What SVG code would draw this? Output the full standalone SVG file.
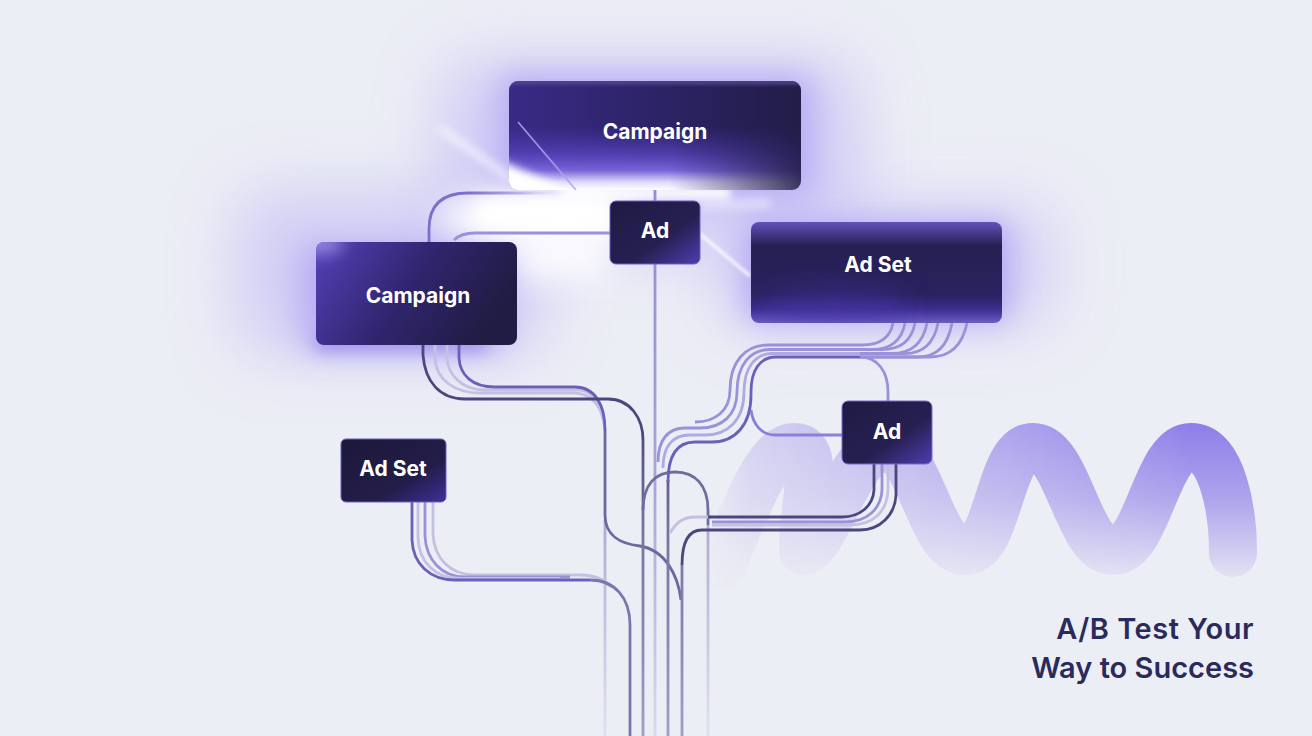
<svg xmlns="http://www.w3.org/2000/svg" width="1312" height="736" viewBox="0 0 1312 736">
<style>
.t{font-family:"Inter","Liberation Sans",sans-serif;font-weight:700;fill:#fff;text-anchor:middle;font-size:21px}
.h{font-family:"Inter","Liberation Sans",sans-serif;font-weight:600;fill:#2a2b5a;text-anchor:end;font-size:29px}
.l{fill:none;stroke-width:2.8;stroke-linecap:butt}
.dark{stroke:#4b467c}
.mid{stroke:#6a60b8}
.lav{stroke:#9a92d8}
.pale{stroke:#c3c0e2}
</style>
<defs>
<filter id="b35" filterUnits="userSpaceOnUse" x="0" y="0" width="1312" height="736"><feGaussianBlur stdDeviation="32"/></filter>
<filter id="b16" filterUnits="userSpaceOnUse" x="0" y="0" width="1312" height="736"><feGaussianBlur stdDeviation="15"/></filter>
<filter id="b8" filterUnits="userSpaceOnUse" x="0" y="0" width="1312" height="736"><feGaussianBlur stdDeviation="8"/></filter>
<filter id="b4" filterUnits="userSpaceOnUse" x="0" y="0" width="1312" height="736"><feGaussianBlur stdDeviation="4"/></filter>
<filter id="b2" filterUnits="userSpaceOnUse" x="0" y="0" width="1312" height="736"><feGaussianBlur stdDeviation="1.6"/></filter>
<linearGradient id="w" gradientUnits="userSpaceOnUse" x1="0" y1="420" x2="0" y2="578"><stop offset="0" stop-color="#8b7ce9"/><stop offset=".5" stop-color="#aea4ec"/><stop offset="1" stop-color="#e2e2f3"/></linearGradient>
<linearGradient id="wm" gradientUnits="userSpaceOnUse" x1="700" y1="0" x2="1190" y2="0"><stop offset="0" stop-color="#fff" stop-opacity="0"/><stop offset=".1" stop-color="#fff" stop-opacity=".25"/><stop offset=".2" stop-color="#fff" stop-opacity=".33"/><stop offset=".42" stop-color="#fff" stop-opacity=".5"/><stop offset=".68" stop-color="#fff" stop-opacity=".72"/><stop offset="1" stop-color="#fff"/></linearGradient>
<mask id="wmask" maskUnits="userSpaceOnUse" x="680" y="400" width="620" height="200"><rect x="680" y="400" width="620" height="200" fill="url(#wm)"/></mask>
<linearGradient id="vfade" gradientUnits="userSpaceOnUse" x1="0" y1="440" x2="0" y2="736"><stop offset="0" stop-color="#55507f"/><stop offset=".3" stop-color="#77739f"/><stop offset=".6" stop-color="#8683b5"/><stop offset="1" stop-color="#a19ec8"/></linearGradient>
<linearGradient id="vlight" gradientUnits="userSpaceOnUse" x1="0" y1="500" x2="0" y2="736"><stop offset="0" stop-color="#a9a6cf"/><stop offset="1" stop-color="#e0e1ee"/></linearGradient>
<linearGradient id="vcenter" gradientUnits="userSpaceOnUse" x1="0" y1="180" x2="0" y2="736"><stop offset="0" stop-color="#9389d8"/><stop offset=".55" stop-color="#a8a5d6"/><stop offset="1" stop-color="#d8d9ea"/></linearGradient>
<linearGradient id="fadeR" gradientUnits="userSpaceOnUse" x1="470" y1="0" x2="575" y2="0"><stop offset="0" stop-color="#7d70cc"/><stop offset=".5" stop-color="#bdb6ee"/><stop offset="1" stop-color="#fff" stop-opacity=".2"/></linearGradient>
<linearGradient id="c1" x1="0" y1="0" x2="1" y2="0"><stop offset="0" stop-color="#392a86"/><stop offset=".6" stop-color="#2a2260"/><stop offset="1" stop-color="#221d48"/></linearGradient>
<linearGradient id="c1b" gradientUnits="userSpaceOnUse" x1="0" y1="125" x2="0" y2="190"><stop offset="0" stop-color="#4a38b4" stop-opacity="0"/><stop offset=".45" stop-color="#5d48c4" stop-opacity=".75"/><stop offset=".7" stop-color="#7a66d8"/><stop offset=".88" stop-color="#e0dafa"/><stop offset="1" stop-color="#fff"/></linearGradient>
<linearGradient id="c1m" gradientUnits="userSpaceOnUse" x1="509" y1="0" x2="801" y2="0"><stop offset="0" stop-color="#fff"/><stop offset=".55" stop-color="#fff"/><stop offset=".8" stop-color="#fff" stop-opacity=".5"/><stop offset="1" stop-color="#fff" stop-opacity=".12"/></linearGradient>
<mask id="c1mask" maskUnits="userSpaceOnUse" x="509" y="81" width="292" height="109"><rect x="509" y="81" width="292" height="109" fill="url(#c1m)"/></mask>
<linearGradient id="c2" x1="0" y1="0" x2="1" y2=".35"><stop offset="0" stop-color="#5540b8"/><stop offset=".55" stop-color="#30256e"/><stop offset="1" stop-color="#211c44"/></linearGradient>
<linearGradient id="c3" x1="0" y1="0" x2="1" y2="1"><stop offset="0" stop-color="#1f1a42"/><stop offset=".6" stop-color="#262052"/><stop offset="1" stop-color="#4f3db0"/></linearGradient>
<linearGradient id="c5" x1="0" y1="0" x2="1" y2="1"><stop offset="0" stop-color="#1d1839"/><stop offset=".65" stop-color="#231d4a"/><stop offset="1" stop-color="#3f2f98"/></linearGradient>
<linearGradient id="c4" x1="0" y1="0" x2="0" y2="1"><stop offset="0" stop-color="#6450bc"/><stop offset=".24" stop-color="#262052"/><stop offset=".72" stop-color="#2a2260"/><stop offset=".86" stop-color="#3b2d8e"/><stop offset=".94" stop-color="#5746ae"/><stop offset="1" stop-color="#6d5fbc"/></linearGradient>
<clipPath id="k1"><rect x="509" y="81" width="292" height="109" rx="9"/></clipPath>
<clipPath id="k2"><rect x="316" y="242" width="201" height="103" rx="8"/></clipPath>
<clipPath id="k4"><rect x="751" y="222" width="251" height="101" rx="8"/></clipPath>
</defs>
<rect width="1312" height="736" fill="#eceef5"/>
<path d="M722 565C745 510 768 447 794 447C822 447 803 500 803 551C825 551 850 447 885 447C920 447 930 551 965 551C1000 551 998 447 1033 447C1068 447 1078 551 1113 551C1148 551 1156 447 1191 447C1222 447 1233 510 1233 553" fill="none" stroke="url(#w)" stroke-width="48" stroke-linecap="round" stroke-linejoin="round" mask="url(#wmask)"/>
<g id="glows">
<rect x="235" y="190" width="310" height="165" rx="30" fill="#cbc6f5" opacity=".8" filter="url(#b35)"/>
<rect x="440" y="60" width="420" height="190" rx="30" fill="#cbc6f5" opacity=".85" filter="url(#b35)"/>
<rect x="715" y="205" width="340" height="120" rx="30" fill="#cfcaf6" opacity=".85" filter="url(#b35)"/>
<rect x="300" y="245" width="205" height="105" rx="10" fill="#b3a6f4" opacity=".8" filter="url(#b16)"/>
<rect x="500" y="75" width="312" height="120" rx="10" fill="#b3a7f4" opacity=".85" filter="url(#b16)"/>
<rect x="745" y="222" width="265" height="100" rx="10" fill="#b0a3f4" opacity=".85" filter="url(#b16)"/>
<rect x="316" y="336" width="170" height="15" fill="#8572e6" opacity=".6" filter="url(#b8)"/>
<ellipse cx="545" cy="218" rx="105" ry="32" fill="#fff" opacity=".9" filter="url(#b16)"/>
<rect x="475" y="198" width="140" height="32" rx="16" fill="#fff" filter="url(#b8)"/>
<rect x="517" y="232" width="92" height="50" fill="#fff" opacity=".8" filter="url(#b16)"/>
<rect x="560" y="186" width="170" height="14" fill="#fff" opacity=".9" filter="url(#b4)"/>
<path d="M440 128L510 178" stroke="#fff" stroke-width="6" opacity=".75" filter="url(#b4)"/>
<path d="M700 234L750 276" stroke="#fff" stroke-width="3" opacity=".85" filter="url(#b2)"/>
<path d="M700 206L770 203" stroke="#fff" stroke-width="8" opacity=".5" filter="url(#b4)"/>
</g>
<g id="connectors">
<path class="l" stroke="url(#vcenter)" d="M655 178V736"/>
<path class="l" stroke="url(#fadeR)" d="M429 242V229Q429 193 468 193H575"/>
<path class="l lav" d="M454 240Q461 233 475 233H610"/>
<path class="l pale" d="M435 345V358C436 380 455 393 480 393H575C595 394 603 410 605 430"/>
<path class="l pale" d="M447 345V358C448 375 462 390 485 390H580C595 391 603 410 605 430"/>
<path class="l mid" d="M459 345V358C460 375 472 387 495 387H575C595 387 605 405 605 430"/>
<path class="l dark" d="M423 345V355C425 382 440 399 465 399H608C630 399 643 418 643 440"/>
<path class="l" stroke="url(#vlight)" d="M605 520V736"/>
<path class="l" stroke="#6c6a9d" d="M605 430V515C605 535 620 544 640 546C665 550 678 575 681 600"/>
<path class="l" stroke="url(#vfade)" d="M643 440V736"/>
<path class="l" stroke="#6f6c9e" d="M643 510C643 485 655 472 675 472C695 472 708 485 708 510V525"/>
<path class="l" stroke="url(#vlight)" d="M708 525V736"/>
<path class="l" stroke="url(#vfade)" d="M668 480V736"/>
<path class="l" stroke="url(#vfade)" d="M682 565V736"/>
<path class="l pale" d="M433 502V534C434 558 450 575 475 575H580C595 575 605 580 612 587"/>
<path class="l lav" d="M425 502V536C426 560 442 577 465 577H570"/>
<path class="l pale" d="M418 502V538C419 562 435 578.500 460 578.500H560"/>
<path class="l mid" d="M412 502V540C413 564 430 580 455 580H590"/>
<path class="l" stroke="#7a76ae" d="M590 580C615 580 630 598 630 625V736"/>
<path class="l lav" d="M893 323Q889 345 862 345H768C745 345 730 362 730 390C730 410 716 422 695 422"/>
<path class="l lav" d="M905 323Q900 349.500 872 349.500H770C750 349.500 737 365 737 392C737 415 722 428 700 428H685C668 428 658 440 658 462"/>
<path class="l lav" d="M915 323Q910 349.500 882 349.500H860"/>
<path class="l lav" d="M927 323Q921 353.500 892 353.500H860"/>
<path class="l lav" d="M938 323Q932 353.500 905 353.500H860"/>
<path class="l lav" d="M952 323Q946 357 918 357H860"/>
<path class="l lav" d="M967 323Q960 357 930 357H860"/>
<path class="l" stroke="#afa9e2" d="M860 353.500H772C755 353.500 744 368 744 392C744 420 728 435 705 435H690C672 435 663 447 663 468"/>
<path class="l mid" d="M860 357H776C760 357 751 370 751 392V395C751 425 735 442 712 442H695C677 442 668 455 668 482"/>
<path class="l lav" d="M860 357C878 357 888 372 888 392V401"/>
<path class="l" stroke="#8a80d8" d="M751 410C753 425 762 435 775 435H842"/>
<path class="l pale" d="M670 533C676 523 682 517 696 517H712"/>
<path class="l lav" d="M882 464V490C881 508 868 522 845 522H712"/>
<path class="l pale" d="M888 464V490C887 512 873 525 850 525H712"/>
<path class="l dark" d="M874 464V490C873 506 860 517 842 517H708"/>
<path class="l dark" d="M896 464V495C895 515 880 530 860 530H702C690 530 682 540 682 565"/>
</g>
<g id="node-campaign-top">
<g clip-path="url(#k1)">
<rect x="509" y="81" width="292" height="109" fill="url(#c1)"/>
<rect x="509" y="78" width="292" height="7" fill="#5a4c96" opacity=".7" filter="url(#b2)"/>
<rect x="509" y="81" width="292" height="109" fill="url(#c1b)" mask="url(#c1mask)"/>
<path d="M500 160L575 194L500 200Z" fill="#fff" filter="url(#b4)"/>
<path d="M518 122L576 190" stroke="#b0a2f2" stroke-width="1.8" opacity=".85"/>
</g>
<text class="t" x="655" y="139">Campaign</text>
</g>
<g id="node-ad-center">
<rect x="610" y="201" width="90" height="63" rx="6" fill="url(#c3)" stroke="#6f5fc8" stroke-width="1"/>
<text class="t" x="655" y="238">Ad</text>
</g>
<g id="node-campaign-left">
<g clip-path="url(#k2)">
<rect x="316" y="242" width="201" height="103" fill="url(#c2)"/>
<ellipse cx="320" cy="244" rx="24" ry="10" fill="#a99cf0" opacity=".8" filter="url(#b8)"/>
</g>
<text class="t" x="418" y="303">Campaign</text>
</g>
<g id="node-adset-right">
<g clip-path="url(#k4)">
<rect x="751" y="222" width="251" height="101" fill="url(#c4)"/>
<ellipse cx="835" cy="310" rx="75" ry="16" fill="#4a38ae" opacity=".6" filter="url(#b16)"/>
</g>
<text class="t" x="878" y="272">Ad Set</text>
</g>
<g id="node-ad-right">
<rect x="842" y="401" width="90" height="63" rx="6" fill="url(#c3)" stroke="#7a6bd0" stroke-width="1"/>
<text class="t" x="887" y="439">Ad</text>
</g>
<g id="node-adset-left">
<rect x="341" y="439" width="105" height="63" rx="5" fill="url(#c5)" stroke="#6e5fc4" stroke-width="1"/>
<text class="t" x="393" y="476">Ad Set</text>
</g>
<g id="title">
<text class="h" x="1254" y="639" letter-spacing=".5">A/B Test Your</text>
<text class="h" x="1254" y="678">Way to Success</text>
</g>
</svg>
